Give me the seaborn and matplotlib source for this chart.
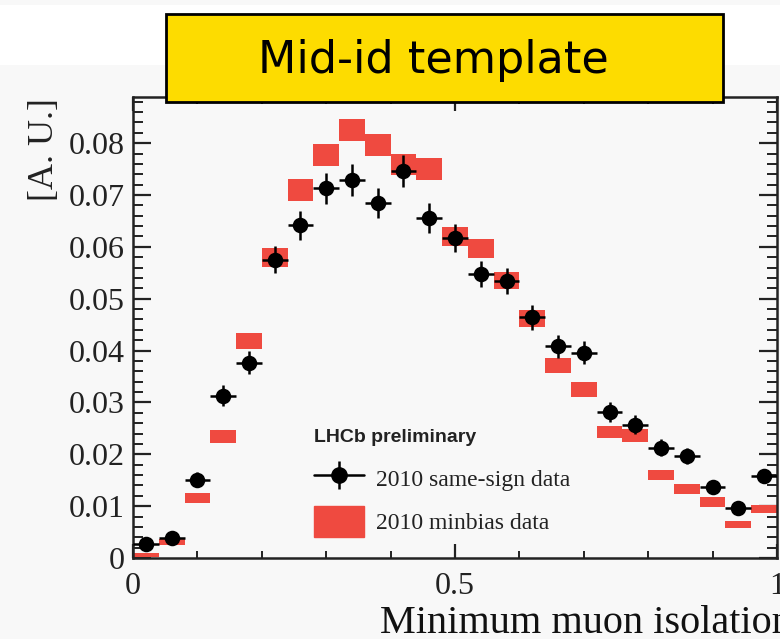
import numpy as np
import matplotlib
matplotlib.use("Agg")
import matplotlib.pyplot as plt
import seaborn as sns
import pandas as pd
from matplotlib.lines import Line2D
from matplotlib.patches import Patch, Rectangle
from matplotlib.ticker import MultipleLocator

# Binned distributions of the minimum muon isolation (25 bins of width 0.04)
bin_centers = [0.02, 0.06, 0.10, 0.14, 0.18, 0.22, 0.26, 0.30, 0.34, 0.38,
               0.42, 0.46, 0.50, 0.54, 0.58, 0.62, 0.66, 0.70, 0.74, 0.78,
               0.82, 0.86, 0.90, 0.94, 0.98]
same_sign = [0.0027, 0.0039, 0.0151, 0.0313, 0.0377, 0.0575, 0.0642, 0.0713,
             0.0729, 0.0684, 0.0746, 0.0655, 0.0618, 0.0547, 0.0535, 0.0464,
             0.0408, 0.0396, 0.0282, 0.0257, 0.0213, 0.0197, 0.0137, 0.0097,
             0.0158]
same_sign_err = [0.0008, 0.0010, 0.0015, 0.0020, 0.0022, 0.0026, 0.0028, 0.0030,
                 0.0030, 0.0029, 0.0031, 0.0029, 0.0027, 0.0025, 0.0025, 0.0024,
                 0.0022, 0.0022, 0.0019, 0.0018, 0.0016, 0.0015, 0.0013, 0.0011,
                 0.0014]
minbias = [0.0005, 0.0031, 0.0116, 0.0234, 0.0419, 0.0580, 0.0709, 0.0777,
           0.0825, 0.0796, 0.0759, 0.0750, 0.0620, 0.0597, 0.0535, 0.0462,
           0.0371, 0.0325, 0.0243, 0.0236, 0.0160, 0.0133, 0.0108, 0.0064,
           0.0095]
minbias_err = [0.0004, 0.0006, 0.0010, 0.0012, 0.0015, 0.0018, 0.0021, 0.0021,
               0.0021, 0.0021, 0.0021, 0.0021, 0.0019, 0.0018, 0.0017, 0.0016,
               0.0015, 0.0014, 0.0012, 0.0012, 0.0010, 0.0009, 0.0009, 0.0007,
               0.0008]
bin_width = 0.04

df = pd.DataFrame({"x": bin_centers, "ss": same_sign, "ss_err": same_sign_err,
                   "mb": minbias, "mb_err": minbias_err})

sns.set_theme(style="ticks")
plt.rcParams["font.family"] = ["Liberation Serif", "DejaVu Serif"]

BG = "#f8f8f8"
RED = "#ef4a40"
INK = "#222222"

fig = plt.figure(figsize=(7.8, 6.39), dpi=100, facecolor=BG)
# white strip along the top of the canvas
fig.add_artist(Rectangle((0, 1 - 65 / 639), 1, 60 / 639, transform=fig.transFigure,
                         facecolor="white", edgecolor="none", zorder=0))

ax = fig.add_axes([133 / 780, 1 - 558 / 639, 644 / 780, 461 / 639])
ax.set_facecolor(BG)

# minbias template: filled boxes spanning the bin width and +/- error
ax.bar(df["x"], 2 * df["mb_err"], bottom=df["mb"] - df["mb_err"], width=bin_width,
       color=RED, edgecolor="none", zorder=2)

# same-sign data: points with bin-width and statistical error bars
ax.errorbar(df["x"], df["ss"], xerr=bin_width / 2, yerr=df["ss_err"], fmt="none",
            ecolor="black", elinewidth=1.8, capsize=0, zorder=3)
sns.scatterplot(data=df, x="x", y="ss", ax=ax, color="black", s=125,
                edgecolor="black", linewidth=0, zorder=4, legend=False)

ax.set_xlim(0, 1.0)
ax.set_ylim(0, 0.0889)
ax.set_xlabel("")
ax.set_ylabel("")

ax.xaxis.set_minor_locator(MultipleLocator(0.1))
ax.yaxis.set_minor_locator(MultipleLocator(0.002))
ax.set_xticks([0, 0.5, 1.0])
ax.set_xticklabels(["0", "0.5", "1"])
ax.set_yticks([0, 0.01, 0.02, 0.03, 0.04, 0.05, 0.06, 0.07, 0.08])
ax.set_yticklabels(["0", "0.01", "0.02", "0.03", "0.04", "0.05", "0.06", "0.07", "0.08"])

ax.tick_params(which="both", direction="in", top=True, right=True,
               colors=INK, labelcolor=INK)
ax.tick_params(which="major", length=13, width=1.6, labelsize=23, pad=6)
ax.tick_params(which="minor", length=7, width=1.4)
ax.tick_params(axis="x", which="major", length=10, pad=10)
ax.tick_params(axis="x", which="minor", length=5)
for s in ax.spines.values():
    s.set_linewidth(1.8)
    s.set_color(INK)

# axis titles
fig.text(45 / 780, 1 - 150 / 639, "[A. U.]", rotation=90, ha="center", va="center",
         fontsize=26, color=INK)
fig.text(380 / 780, 1 - 633 / 639, "Minimum muon isolation", ha="left", va="baseline",
         fontsize=29, color="#111111")

# legend
h_bar = Line2D([], [], color="black", linewidth=1.8)
h_vert = Line2D([], [], color="black", marker="|", markersize=20,
                markeredgewidth=1.8, linestyle="none")
h_dot = Line2D([], [], color="black", marker="o", markersize=11, linestyle="none")
h_mb = Patch(facecolor=RED, edgecolor=RED)
leg = ax.legend([(h_bar, h_vert, h_dot), h_mb],
                ["2010 same-sign data", "2010 minbias data"],
                title="LHCb preliminary", loc="upper left",
                bbox_to_anchor=(305 / 780, 1 - 420 / 639), bbox_transform=fig.transFigure,
                frameon=False, fontsize=17, handlelength=2.1, handleheight=1.6,
                labelspacing=0.55, handletextpad=0.5, borderaxespad=0)
leg.get_title().set_fontfamily(["Liberation Sans", "DejaVu Sans"])
leg.get_title().set_fontweight("bold")
leg.get_title().set_fontsize(14)
leg.get_title().set_color(INK)
leg._legend_box.align = "left"
leg._legend_box.sep = 12
for t in leg.get_texts():
    t.set_color(INK)

# heading box
fig.add_artist(Rectangle((166 / 780, 1 - 102 / 639), 557 / 780, 88 / 639,
                         transform=fig.transFigure, facecolor="#fddc00",
                         edgecolor="black", linewidth=2, zorder=10))
fig.text(433 / 780, 1 - 60 / 639, "Mid-id template", ha="center", va="center",
         fontsize=32, family=["DejaVu Sans"], color="black", zorder=11)

fig.savefig("out.png", dpi=100, facecolor=BG)
